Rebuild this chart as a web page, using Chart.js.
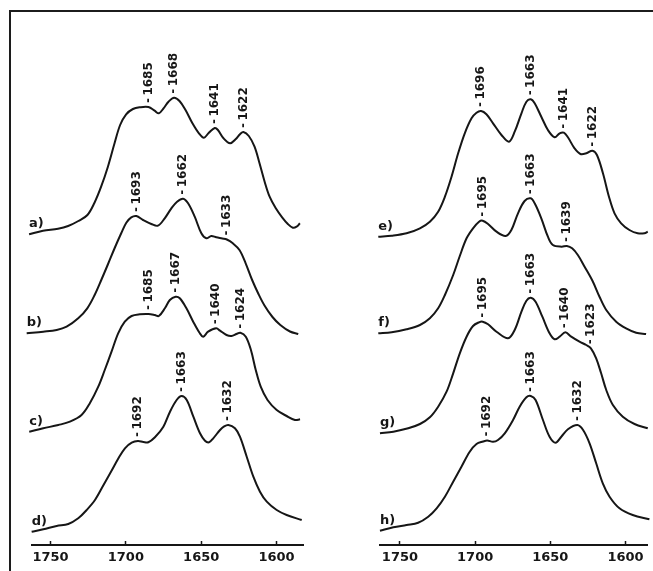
<!DOCTYPE html>
<html>
<head>
<meta charset="utf-8">
<script src="https://cdn.jsdelivr.net/npm/chart.js@4.4.1/dist/chart.umd.min.js"></script>
<style>
  html, body { margin: 0; padding: 0; background: #ffffff; overflow: hidden; }
  #stage { position: relative; width: 653px; height: 571px; overflow: hidden; background: #ffffff; }
  #frame { position: absolute; left: 9px; top: 10px; width: 700px; height: 620px;
           border-top: 2px solid #1c1c1c; border-left: 2px solid #1c1c1c; }
  canvas { position: absolute; top: 0; }
  #leftPanel { left: 0; }
  #rightPanel { left: 327px; }
</style>
</head>
<body>
<div id="stage">
  <div id="frame"></div>
  <canvas id="leftPanel" width="326" height="571"></canvas>
  <canvas id="rightPanel" width="326" height="571"></canvas>
</div>
<script>
// Amide I region, wavenumber (cm-1) vs. absorbance; spectra stacked with a fixed offset.
const xTicks = [1750, 1700, 1650, 1600];
const traceOffsets = [3.09, 2.10, 1.11, 0.12];

const spectrumA = [[1764.2,0.017],[1755,0.053],[1745,0.073],[1738.3,0.10],[1731.5,0.15],[1725.5,0.21],[1720.8,0.333],[1716.4,0.493],[1711.9,0.693],[1707.5,0.927],[1703.8,1.11],[1699.8,1.217],[1695.3,1.27],[1690.9,1.287],[1685,1.29],[1680.9,1.253],[1678.1,1.227],[1675,1.277],[1671.7,1.343],[1668,1.383],[1664.4,1.35],[1660.4,1.26],[1656,1.133],[1651.5,1.027],[1648.2,0.983],[1644.9,1.033],[1641,1.08],[1638.9,1.06],[1635.2,0.977],[1630.8,0.927],[1627.2,0.967],[1624.1,1.02],[1622,1.04],[1618.4,1.00],[1614.6,0.893],[1611.3,0.727],[1607.9,0.543],[1604.6,0.393],[1600.5,0.277],[1596.3,0.187],[1592.5,0.12],[1589.2,0.083],[1586.7,0.093],[1584.5,0.127]];
const spectrumB = [[1765.8,0.017],[1754.8,0.033],[1745.9,0.05],[1739.3,0.083],[1731.6,0.167],[1725.6,0.267],[1720.7,0.40],[1716.3,0.55],[1711.8,0.71],[1707.4,0.87],[1703,1.02],[1699.7,1.123],[1696.4,1.177],[1693,1.19],[1688.6,1.15],[1683.1,1.11],[1678.7,1.093],[1674.2,1.167],[1669.8,1.267],[1666,1.333],[1662,1.363],[1658.7,1.317],[1654.3,1.183],[1649.9,1.017],[1646.6,0.967],[1643.3,0.99],[1640,0.977],[1636,0.965],[1633,0.955],[1629,0.917],[1624.6,0.85],[1620.5,0.717],[1616.2,0.55],[1612,0.41],[1608,0.295],[1602.7,0.18],[1597.5,0.10],[1591.1,0.035],[1585.6,0.01]];
const spectrumC = [[1764.1,0.023],[1754.8,0.057],[1744.8,0.09],[1737.1,0.123],[1729.4,0.19],[1723.9,0.307],[1718.3,0.473],[1714,0.64],[1709.5,0.823],[1705.1,1.007],[1700.7,1.123],[1696.2,1.18],[1690.7,1.197],[1685,1.20],[1680.8,1.19],[1678.1,1.18],[1674.1,1.257],[1670.8,1.34],[1667,1.373],[1664.2,1.357],[1659.8,1.257],[1655.3,1.123],[1650.9,1.007],[1648.7,0.973],[1645.4,1.023],[1640,1.057],[1637.5,1.033],[1633.2,0.99],[1629.9,0.98],[1626.6,1.0],[1624,1.013],[1620.4,0.973],[1617,0.84],[1613.8,0.64],[1610.5,0.473],[1606,0.34],[1599.9,0.24],[1593.3,0.18],[1587.8,0.14],[1584.4,0.147]];
const spectrumD = [[1762.5,0.013],[1754.8,0.037],[1745.9,0.07],[1738.2,0.09],[1731.6,0.147],[1726,0.23],[1720.5,0.33],[1715,0.475],[1709.4,0.625],[1705,0.745],[1700.6,0.847],[1696.1,0.903],[1692,0.92],[1688.4,0.91],[1685.1,0.907],[1680.7,0.957],[1675.1,1.063],[1670.7,1.213],[1666.3,1.33],[1663,1.37],[1659.6,1.33],[1655.2,1.163],[1650.8,0.997],[1647.5,0.923],[1644.8,0.907],[1642,0.947],[1637.5,1.03],[1635,1.063],[1632,1.08],[1627.6,1.047],[1624.3,0.963],[1619.8,0.763],[1615.4,0.563],[1611,0.413],[1606.5,0.313],[1599.9,0.23],[1593.3,0.18],[1583.3,0.13]];
const spectrumE = [[1764.4,-0.007],[1755.5,0.003],[1745.6,0.027],[1736.7,0.077],[1730.1,0.143],[1724.6,0.243],[1720.1,0.393],[1715.7,0.593],[1711.3,0.827],[1706.9,1.027],[1702.4,1.177],[1699.1,1.233],[1696,1.25],[1692.5,1.217],[1688.1,1.127],[1682.5,1.01],[1677.5,0.943],[1673.7,1.043],[1669.2,1.227],[1665.9,1.343],[1663,1.367],[1660.4,1.327],[1656,1.193],[1651.6,1.06],[1647.1,0.987],[1643.8,1.027],[1641,1.033],[1638.3,0.987],[1633.9,0.877],[1630,0.82],[1626,0.827],[1622,0.853],[1619,0.81],[1615,0.627],[1611,0.393],[1607.3,0.227],[1602.9,0.127],[1597.4,0.06],[1591.9,0.027],[1587.4,0.027],[1585.2,0.043]];
const spectrumF = [[1764.4,0.017],[1755.5,0.027],[1745.6,0.057],[1736.7,0.10],[1730.1,0.167],[1724.6,0.267],[1720.1,0.40],[1714.6,0.60],[1710.2,0.79],[1705.7,0.967],[1701.4,1.067],[1697.4,1.133],[1695,1.143],[1691.4,1.11],[1685.8,1.033],[1679.7,0.99],[1675.9,1.05],[1671.5,1.217],[1667.1,1.34],[1663,1.367],[1660.4,1.317],[1656,1.167],[1651.6,0.983],[1648.3,0.90],[1642.5,0.883],[1639,0.89],[1635.5,0.867],[1631.7,0.80],[1627.2,0.683],[1621.9,0.54],[1617.3,0.383],[1612.8,0.25],[1606.2,0.133],[1599.6,0.067],[1592.9,0.023],[1586.3,0.01]];
const spectrumG = [[1763.3,0.007],[1754.4,0.023],[1744.5,0.057],[1736.7,0.10],[1730.1,0.167],[1724.6,0.273],[1719,0.423],[1714.6,0.607],[1710.2,0.807],[1705.7,0.973],[1701.4,1.08],[1697.4,1.117],[1695,1.123],[1691.4,1.097],[1685.8,1.023],[1678.1,0.957],[1673.7,1.04],[1669.2,1.223],[1665.9,1.333],[1663,1.363],[1659.8,1.323],[1655.3,1.173],[1650.5,1.007],[1647.1,0.947],[1643.8,0.973],[1640,1.017],[1636.1,0.973],[1630.6,0.923],[1626.1,0.89],[1623,0.857],[1619.5,0.757],[1616.2,0.607],[1612.8,0.44],[1608.4,0.29],[1601.8,0.173],[1594,0.10],[1585.2,0.057]];
const spectrumH = [[1763.3,0.023],[1754.4,0.057],[1745.6,0.08],[1737.9,0.103],[1731.2,0.163],[1725.6,0.247],[1720.1,0.363],[1714.6,0.513],[1709.1,0.663],[1703.6,0.813],[1699.1,0.89],[1694.7,0.915],[1692,0.925],[1688.1,0.912],[1684.8,0.93],[1680.3,0.997],[1674.8,1.13],[1670.4,1.263],[1665.9,1.357],[1663,1.37],[1659.8,1.33],[1654.9,1.13],[1650.5,0.963],[1646.5,0.903],[1642.7,0.963],[1638.3,1.037],[1632,1.08],[1628.2,1.03],[1623.9,0.897],[1619.5,0.697],[1615.1,0.497],[1610.6,0.363],[1604,0.247],[1595.2,0.18],[1584.1,0.137]];

const peaksA = [1685, 1668, 1641, 1622];
const peaksB = [1693, 1662, 1633];
const peaksC = [1685, 1667, 1640, 1624];
const peaksD = [1692, 1663, 1632];
const peaksE = [1696, 1663, 1641, 1622];
const peaksF = [1695, 1663, 1639];
const peaksG = [1695, 1663, 1640, 1623];
const peaksH = [1692, 1663, 1632];

const namesLeft = ['a)', 'b)', 'c)', 'd)'];
const namesRight = ['e)', 'f)', 'g)', 'h)'];

const INK = '#161616';
const FONT = '"DejaVu Sans", sans-serif';

// Absorbance read back from a trace at a given wavenumber (linear between samples).
function valueAt(points, w) {
  for (let i = 0; i < points.length - 1; i++) {
    const p = points[i], q = points[i + 1];
    if ((p.x - w) * (q.x - w) <= 0) {
      const t = p.x === q.x ? 0 : (p.x - w) / (p.x - q.x);
      return p.y + (q.y - p.y) * t;
    }
  }
  return points[0].y;
}

// Trace names at the start of each curve and vertical band positions above the peaks.
const annotate = {
  id: 'annotate',
  afterDatasetsDraw(chart) {
    const ctx = chart.ctx, xs = chart.scales.x, ys = chart.scales.y;
    ctx.save();
    ctx.fillStyle = INK;
    chart.data.datasets.forEach(ds => {
      const pts = ds.data;
      ctx.font = 'bold 13px ' + FONT;
      ctx.textAlign = 'left';
      ctx.textBaseline = 'alphabetic';
      ctx.fillText(ds.label, xs.getPixelForValue(pts[0].x) + 0, ys.getPixelForValue(pts[0].y) - 7);
      ctx.font = 'bold 12px ' + FONT;
      ds.peaks.forEach(p => {
        const px = xs.getPixelForValue(p);
        const py = ys.getPixelForValue(valueAt(pts, p));
        ctx.save();
        ctx.translate(px, py - 4);
        ctx.rotate(-Math.PI / 2);
        ctx.textAlign = 'left';
        ctx.textBaseline = 'middle';
        ctx.fillText('-\u2009' + p, 0, 0);
        ctx.restore();
      });
    });
    ctx.restore();
  }
};

function buildPanel(canvasId, spectra, peaks, names, xMin, xMax, padLeft, padRight) {
  return new Chart(document.getElementById(canvasId), {
    type: 'line',
    data: {
      datasets: spectra.map((s, i) => ({
        label: names[i],
        peaks: peaks[i],
        data: s.map(([w, a]) => ({ x: w, y: a + traceOffsets[i] })),
        borderColor: INK,
        borderWidth: 2,
        pointRadius: 0,
        fill: false,
        tension: 0.35,
        clip: false
      }))
    },
    options: {
      responsive: false,
      animation: false,
      events: [],
      elements: { line: { capBezierPoints: false } },
      layout: { autoPadding: false, padding: { left: padLeft, right: padRight, top: 0, bottom: 0 } },
      plugins: { legend: { display: false }, tooltip: { enabled: false } },
      scales: {
        x: {
          type: 'linear',
          reverse: true,
          min: xMin,
          max: xMax,
          afterBuildTicks: s => { s.ticks = xTicks.map(v => ({ value: v })); },
          afterFit: s => { s.height = 26; },
          ticks: {
            autoSkip: false,
            maxRotation: 0,
            padding: 9,
            color: INK,
            font: { family: FONT, weight: 'bold', size: 13 },
            callback: v => String(v)
          },
          grid: { display: true, drawOnChartArea: false, drawTicks: true, tickLength: -4, tickColor: INK, tickWidth: 1.5 },
          border: { display: true, color: INK, width: 2 }
        },
        y: { display: false, min: 0, max: 5.45 }
      }
    },
    plugins: [annotate]
  });
}

buildPanel('leftPanel',
  [spectrumA, spectrumB, spectrumC, spectrumD],
  [peaksA, peaksB, peaksC, peaksD],
  namesLeft, 1582.45, 1762.47, 31.7, 23);

buildPanel('rightPanel',
  [spectrumE, spectrumF, spectrumG, spectrumH],
  [peaksE, peaksF, peaksG, peaksH],
  namesRight, 1585.43, 1763.27, 53, 5);
</script>
</body>
</html>
